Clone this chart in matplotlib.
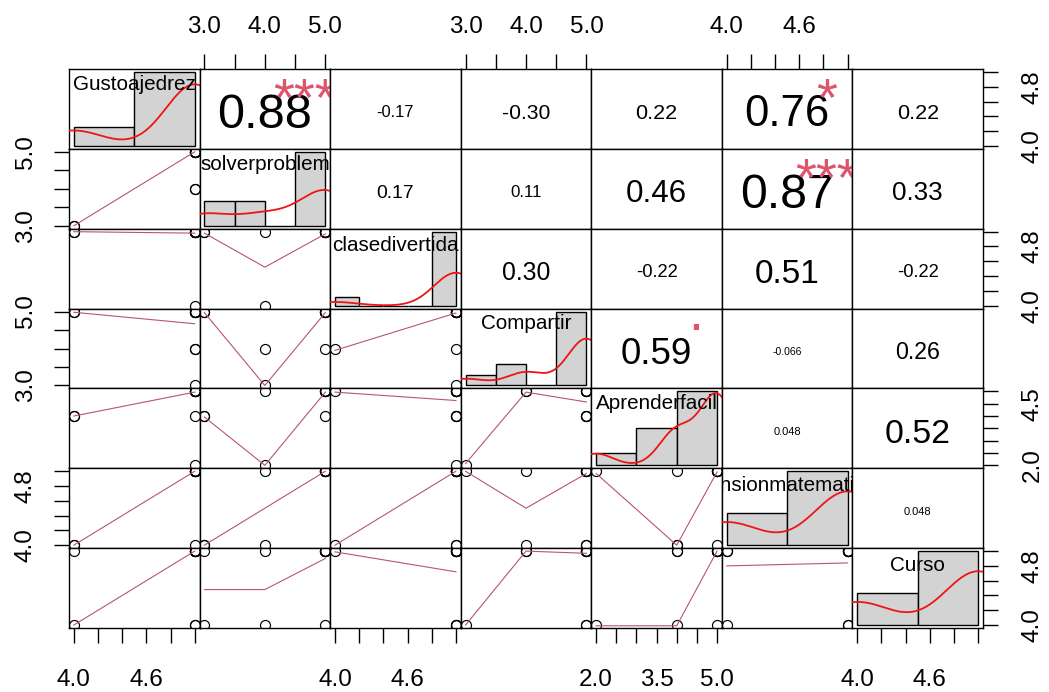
import numpy as np
import matplotlib
matplotlib.use("Agg")
import matplotlib.pyplot as plt
import seaborn as sns
from matplotlib.transforms import ScaledTranslation
from matplotlib.textpath import TextPath
from matplotlib.font_manager import FontProperties, findfont, get_font

plt.rcParams['font.family'] = ['Liberation Sans', 'DejaVu Sans']

names = ["Gustoajedrez", "solverproblem", "clasedivertida", "Compartir",
         "Aprenderfacil", "Tensionmatematica", "Curso"]
Gustoajedrez = [4, 4, 5, 5, 5, 5, 5, 5, 5, 5]
solverproblem = [3, 3, 4, 4, 5, 5, 5, 5, 5, 5]
clasedivertida = [5, 5, 4, 5, 5, 5, 5, 5, 5, 5]
Compartir = [5, 5, 4, 3, 5, 4, 5, 5, 5, 5]
Aprenderfacil = [4, 4, 5, 2, 4, 5, 5, 5, 5, 5]
Tensionmatematica = [4, 4, 4, 5, 5, 5, 5, 5, 5, 5]
Curso = [4, 5, 5, 4, 5, 5, 4, 5, 5, 5]
variables = [Gustoajedrez, solverproblem, clasedivertida, Compartir,
             Aprenderfacil, Tensionmatematica, Curso]

# histogram breaks per variable
breaks = [[4, 4.5, 5], [3, 3.5, 4, 4.5, 5], [4, 4.2, 4.4, 4.6, 4.8, 5],
          [3, 3.5, 4, 4.5, 5], [2, 3, 4, 5], [4, 4.5, 5], [4, 4.5, 5]]

# correlation labels (upper triangle, row by row) and significance marks
cor_text = [["0.88", "-0.17", "-0.30", "0.22", "0.76", "0.22"],
            ["0.17", "0.11", "0.46", "0.87", "0.33"],
            ["0.30", "-0.22", "0.51", "-0.22"],
            ["0.59", "-0.066", "0.26"],
            ["0.048", "0.52"],
            ["0.048"]]
cor_stars = [["***", "", "", "", "*", ""],
             ["", "", "", "***", ""],
             ["", "", "", ""],
             [".", "", ""],
             ["", ""],
             [""]]

# smoothed (lowess) lines of the lower panels: (row, col) -> (x values, fitted y)
smooth = {
    (1, 0): ([4, 5], [3.0, 5.0]),
    (2, 0): ([4, 5], [5.0, 4.98]),
    (2, 1): ([3, 4, 5], [4.98, 4.52, 4.97]),
    (3, 0): ([4, 5], [4.98, 4.67]),
    (3, 1): ([3, 4, 5], [4.97, 3.0, 4.97]),
    (3, 2): ([4, 5], [3.95, 4.96]),
    (4, 0): ([4, 5], [4.0, 4.97]),
    (4, 1): ([3, 4, 5], [3.96, 2.0, 4.97]),
    (4, 2): ([4, 5], [4.97, 4.63]),
    (4, 3): ([3, 4, 5], [2.07, 4.97, 4.57]),
    (5, 0): ([4, 5], [4.0, 5.0]),
    (5, 1): ([3, 4, 5], [4.0, 4.5, 5.0]),
    (5, 2): ([4, 5], [4.0, 5.0]),
    (5, 3): ([3, 4, 5], [5.0, 4.5, 4.97]),
    (5, 4): ([2, 4, 5], [4.97, 4.0, 4.99]),
    (6, 0): ([4, 5], [4.0, 5.0]),
    (6, 1): ([3, 4, 5], [4.48, 4.48, 4.9]),
    (6, 2): ([4, 5], [4.99, 4.72]),
    (6, 3): ([3, 4, 5], [4.0, 5.0, 4.97]),
    (6, 4): ([2, 4, 5], [3.99, 3.99, 5.0]),
    (6, 5): ([4, 5], [4.8, 4.84]),
}

# axis ticks and the labels R kept
ticks = [[4.0, 4.2, 4.4, 4.6, 4.8, 5.0], [3.0, 3.5, 4.0, 4.5, 5.0],
         [4.0, 4.2, 4.4, 4.6, 4.8, 5.0], [3.0, 3.5, 4.0, 4.5, 5.0],
         [2.0, 2.5, 3.0, 3.5, 4.0, 4.5, 5.0], [4.0, 4.2, 4.4, 4.6, 4.8, 5.0],
         [4.0, 4.2, 4.4, 4.6, 4.8, 5.0]]
xtick_labels = [["4.0", "", "", "4.6", "", ""], ["3.0", "", "4.0", "", "5.0"],
                ["4.0", "", "", "4.6", "", ""], ["3.0", "", "4.0", "", "5.0"],
                ["2.0", "", "", "3.5", "", "", "5.0"], ["4.0", "", "", "4.6", "", ""],
                ["4.0", "", "", "4.6", "", ""]]
ytick_labels = [["4.0", "", "", "", "4.8", ""], ["3.0", "", "", "", "5.0"],
                ["4.0", "", "", "", "4.8", ""], ["3.0", "", "", "", "5.0"],
                ["2.0", "", "", "", "", "4.5", ""], ["4.0", "", "", "", "4.8", ""],
                ["4.0", "", "", "", "4.8", ""]]

# ---------------- layout ----------------
W, H = 1049, 692
DPI = 100
fig = plt.figure(figsize=(W / DPI, H / DPI), dpi=DPI)
L, R, T, B = 69, 983, 69, 628
cw = (R - L) / 7.0
rh = (B - T) / 7.0
nvar = len(names)

FAMILY = 'Liberation Sans'
fp = FontProperties(family=FAMILY)
ft = get_font(findfont(fp))

def adv_em(s):
    ft.set_size(100, 72)
    tot = 0.0
    for c in s:
        g = ft.load_char(ord(c))
        tot += g.linearHoriAdvance / 65536.0
    return tot / 100.0

def ink_cy(s, fs):
    bb = TextPath((0, 0), s, size=fs, prop=fp).get_extents()
    return (bb.y0 + bb.y1) / 2.0

def centered_text(ax, x, y, s, fs, color='black', dy_px=2.5):
    cy = ink_cy(s, fs)
    off = ScaledTranslation(0, (-cy - dy_px * 72.0 / DPI) / 72.0, fig.dpi_scale_trans)
    ax.text(x, y, s, transform=ax.transAxes + off, ha='center', va='baseline',
            fontsize=fs, color=color, family=FAMILY, clip_on=True)

def padded(lo, hi):
    d = hi - lo
    return lo - 0.04 * d, hi + 0.04 * d

def split_ticks(tv, tl):
    major = [t for t, s in zip(tv, tl) if s]
    labels = [s for s in tl if s]
    minor = [t for t, s in zip(tv, tl) if not s]
    return major, labels, minor

TICK_FS = 17.5
LABEL_FS = 14.9
TICK_LEN = 15 * 72.0 / DPI
SMOOTH_COL = '#B8566A'
STAR_COL = '#DF536B'
DENS_COL = '#EE1515'

for i in range(nvar):
    for j in range(nvar):
        x0 = (L + j * cw) / W
        y0 = 1 - (T + (i + 1) * rh) / H
        ax = fig.add_axes([x0, y0, cw / W, rh / H])
        xv = np.asarray(variables[j], float)
        yv = np.asarray(variables[i], float)
        ax.set_xlim(*padded(xv.min(), xv.max()))
        ax.set_ylim(*padded(yv.min(), yv.max()))
        for sp in ax.spines.values():
            sp.set_linewidth(1.0)
            sp.set_color('black')
        ax.set_xticks([])
        ax.set_yticks([])
        ax.tick_params(which='both', bottom=False, top=False, left=False, right=False,
                       labelbottom=False, labeltop=False, labelleft=False, labelright=False)

        common = dict(direction='out', length=TICK_LEN, width=1.0, labelsize=TICK_FS)
        # outer axes (alternating like R pairs)
        if (i == 0 and j % 2 == 1) or (i == nvar - 1 and j % 2 == 0):
            mj, lb, mn = split_ticks(ticks[j], xtick_labels[j])
            ax.set_xticks(mj, lb)
            ax.set_xticks(mn, minor=True)
            if i == 0:
                ax.tick_params(axis='x', which='both', top=True, labeltop=True,
                               pad=11.5, **common)
            else:
                ax.tick_params(axis='x', which='both', bottom=True, labelbottom=True,
                               pad=18.7, **common)
        if (j == 0 and i % 2 == 1) or (j == nvar - 1 and i % 2 == 0):
            mj, lb, mn = split_ticks(ticks[i], ytick_labels[i])
            ax.set_yticks(mj, lb)
            ax.set_yticks(mn, minor=True)
            if j == 0:
                ax.tick_params(axis='y', which='both', left=True, labelleft=True,
                               pad=12.5, labelrotation=90, **common)
            else:
                ax.tick_params(axis='y', which='both', right=True, labelright=True,
                               pad=17.0, labelrotation=90, **common)
            for lab in ax.get_yticklabels():
                lab.set_va('center')

        if i > j:
            # scatter + smooth
            ax.plot(xv, yv, linestyle='none', marker='o', mfc='none', mec='black',
                    ms=7.2, mew=0.85, clip_on=True, zorder=2)
            sx, sy = smooth[(i, j)]
            ax.plot(sx, sy, color=SMOOTH_COL, lw=0.8, zorder=3)
        elif i < j:
            txt = cor_text[i][j - i - 1]
            r = float(txt)
            base_em = 0.8 * cw / adv_em(txt)
            fs = base_em * (abs(r) + 0.3) / 1.3 * 72.0 / DPI
            centered_text(ax, 0.5, 0.5, txt, fs)
            st = cor_stars[i][j - i - 1]
            if st:
                centered_text(ax, 0.8, 0.8, st, base_em * 72.0 / DPI, color=STAR_COL)
        else:
            hax = ax.inset_axes([0, 0, 1, 1])
            hax.set_axis_off()
            br = np.asarray(breaks[i], float)
            n = len(xv)
            counts = np.histogram(-xv, bins=-br[::-1])[0][::-1]
            dens = counts / (n * np.diff(br))
            hax.bar(br[:-1], dens, width=np.diff(br), align='edge',
                    color='#D3D3D3', edgecolor='black', linewidth=1.0, zorder=1)
            sd = np.std(xv, ddof=1)
            q75, q25 = np.percentile(xv, [75, 25])
            lo = min(sd, (q75 - q25) / 1.349)
            if lo == 0:
                lo = sd
            bw = 0.9 * lo * n ** (-0.2)
            sns.kdeplot(x=xv, ax=hax, bw_method=bw / sd, color=DENS_COL, lw=1.3,
                        cut=3, gridsize=512, zorder=2)
            hax.set_xlim(*padded(br[0], br[-1]))
            hax.set_ylim(*padded(0, dens.max()))
            hax.set_axis_off()
            centered_text(hax, 0.5, 0.8333, names[i], LABEL_FS, dy_px=2.0)

fig.savefig("out.png", dpi=DPI)
